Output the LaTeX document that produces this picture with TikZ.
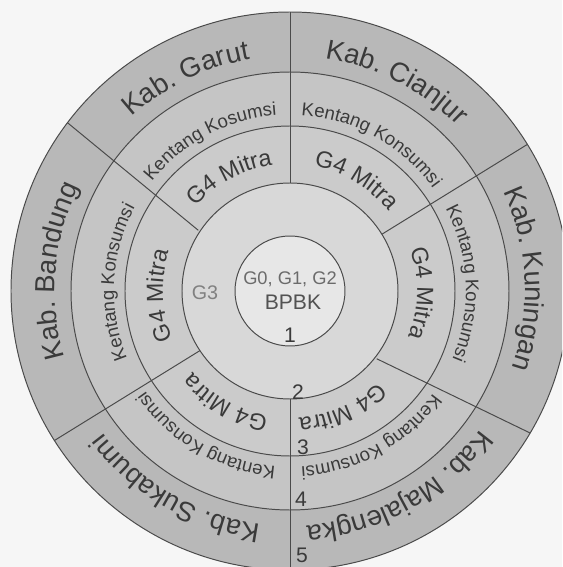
\documentclass[tikz,border=0pt]{standalone}
\usepackage{fontspec}
\setmainfont{Liberation Sans}
\usetikzlibrary{decorations.text}
\definecolor{bg}{HTML}{F6F6F6}
\definecolor{ringfive}{HTML}{B8B8B8}
\definecolor{ringfour}{HTML}{C5C5C5}
\definecolor{ringthree}{HTML}{CBCBCB}
\definecolor{ringtwo}{HTML}{D8D8D8}
\definecolor{ringone}{HTML}{E7E7E7}
\definecolor{edge}{HTML}{4A4A4A}
\definecolor{txt}{HTML}{3A3A3A}
\newcommand{\kabfont}{\fontsize{19.6}{20}\selectfont}
\newcommand{\kentfont}{\fontsize{13.2}{14}\selectfont}
\newcommand{\mitrafont}{\fontsize{16.6}{17}\selectfont}
\newcommand{\arclabel}[4]{\path[decorate,decoration={text along path,text align=center,text color=txt,text={|#3|#4}}] ({#1+40}:#2) arc[start angle={#1+40},end angle={#1-40},radius=#2];}
\tikzset{
  ring/.style={draw=edge,line width=0.7pt},
  divider/.style={draw=edge,line width=0.7pt},
  num/.style={text=txt,font=\fontsize{15}{15}\selectfont}
}
\begin{document}
\begin{tikzpicture}[x=0.025cm,y=0.025cm]
\path[use as bounding box,fill=bg] (-290,-276) rectangle (272,291);
\clip (-290,-276) rectangle (272,291);
\path[ring,fill=ringfive] (0,0) circle[radius=279];
\path[ring,fill=ringfour] (0,0) circle[radius=219];
\path[ring,fill=ringthree] (0,0) circle[radius=165];
\path[ring,fill=ringtwo] (0,0) circle[radius=108];
\path[ring,fill=ringone] (0,0) circle[radius=55];
\draw[divider] (90:108) -- (90:279);
\draw[divider] (-90:108) -- (-90:279);
\draw[divider] (31.7:108) -- (31.7:279);
\draw[divider] (146.5:110) -- (142.9:279);
\draw[divider] (-38:110) -- (-30.6:279);
\draw[divider] (213.5:108) -- (212.4:279);
\arclabel{116}{235}{\kabfont}{Kab. Garut}
\arclabel{63}{235}{\kabfont}{Kab. Cianjur}
\arclabel{3}{235}{\kabfont}{Kab. Kuningan}
\arclabel{-61}{235}{\kabfont}{Kab. Majalengka}
\arclabel{240}{235}{\kabfont}{Kab. Sukabumi}
\arclabel{175}{235}{\kabfont}{Kab. Bandung}
\arclabel{118}{176}{\kentfont}{Kentang Kosumsi}
\arclabel{61}{176}{\kentfont}{Kentang Konsumsi}
\arclabel{2.6}{176}{\kentfont}{Kentang Konsumsi}
\arclabel{-61}{176}{\kentfont}{Kentang Konsumsi}
\arclabel{240}{176}{\kentfont}{Kentang Konsumsi}
\arclabel{177}{176}{\kentfont}{Kentang Konsumsi}
\arclabel{118}{127}{\mitrafont}{G4 Mitra}
\arclabel{59}{127}{\mitrafont}{G4 Mitra}
\arclabel{-1}{127}{\mitrafont}{G4 Mitra}
\arclabel{-66}{127}{\mitrafont}{G4 Mitra}
\arclabel{240}{127}{\mitrafont}{G4 Mitra}
\arclabel{182}{127}{\mitrafont}{G4 Mitra}
\node[text=black!50,font=\fontsize{14}{14}\selectfont] (gthree) at (-85,-2) {G3};
\node[text=black!58,font=\fontsize{13}{13}\selectfont] (gzero) at (0,12) {G0, G1, G2};
\node[text=black!68,font=\fontsize{15}{15}\selectfont] (bpbk) at (3,-11) {BPBK};
\node[num] (one) at (0,-44) {1};
\node[num] (two) at (8,-101) {2};
\node[num] (three) at (13,-156) {3};
\node[num] (four) at (11,-208) {4};
\node[num] (five) at (12,-264) {5};
\end{tikzpicture}
\end{document}
